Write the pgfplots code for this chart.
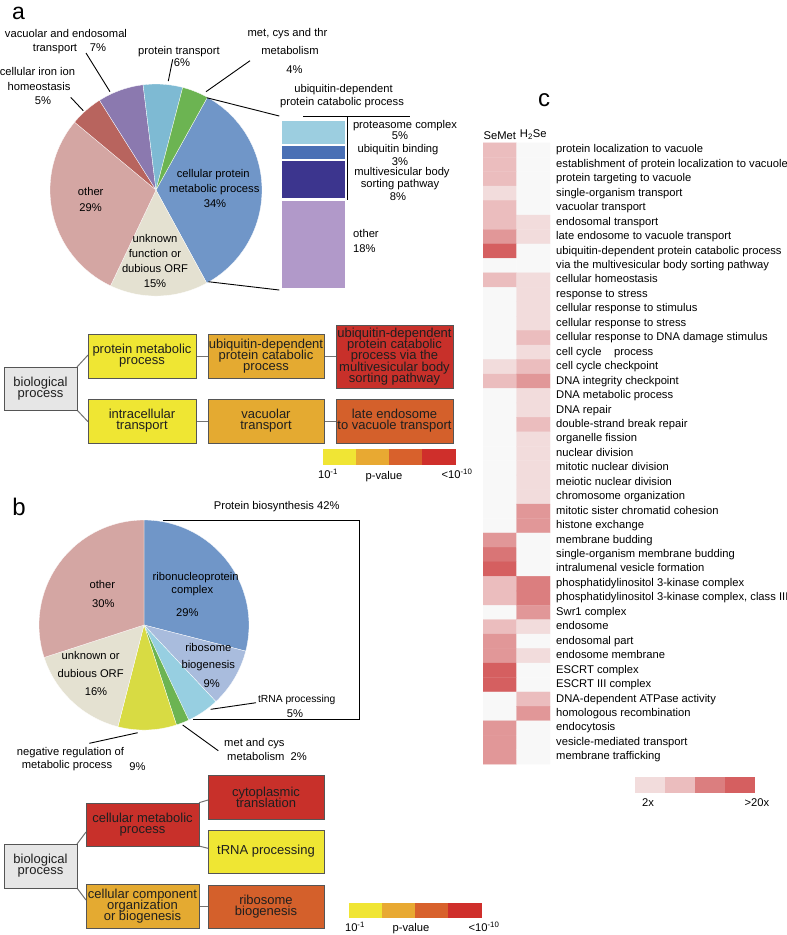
\documentclass[border=0pt]{standalone}
\usepackage{fontspec}
\setmainfont{Liberation Sans}
\usepackage{pgfplots}
\pgfplotsset{compat=1.18}

% pie colours
\definecolor{pieblue}{HTML}{7096C8}
\definecolor{piebeige}{HTML}{E4E1D1}
\definecolor{piepink}{HTML}{D4A6A3}
\definecolor{piered}{HTML}{B8645E}
\definecolor{piepurple}{HTML}{8B79AF}
\definecolor{pielblue}{HTML}{7EBAD3}
\definecolor{piegreen}{HTML}{6CB452}
\definecolor{pieperi}{HTML}{A9BCDD}
\definecolor{pielblueb}{HTML}{97CFE1}
\definecolor{pieyellow}{HTML}{D8DB43}
% stacked bar
\definecolor{sbA}{HTML}{9CCEE0}
\definecolor{sbB}{HTML}{4A70B5}
\definecolor{sbC}{HTML}{3C358E}
\definecolor{sbD}{HTML}{B199C9}
% GO boxes and p-value scale
\definecolor{bxY}{HTML}{EFE633}
\definecolor{bxO}{HTML}{E4AA31}
\definecolor{bxR}{HTML}{C8302A}
\definecolor{bxD}{HTML}{D4602B}
\definecolor{bxG}{HTML}{E6E6E6}
\definecolor{boxedge}{HTML}{555555}
\definecolor{cbY}{HTML}{F0E534}
\definecolor{cbO}{HTML}{E8A932}
\definecolor{cbD}{HTML}{D8612C}
\definecolor{cbR}{HTML}{CF2F2B}
% enrichment scale
\definecolor{hm1}{RGB}{242,220,220}
\definecolor{hm2}{RGB}{235,189,190}
\definecolor{hm3}{RGB}{219,126,127}
\definecolor{hm4}{RGB}{213,95,96}

\newcommand\lf{\fontsize{11.2}{13}\selectfont}
\newcommand\bx{\fontsize{13}{11.2}\selectfont\lineskiplimit=-20pt\relax}
\tikzset{lab/.style={font=\lf, inner sep=0pt, text height=8pt, text depth=2.3pt, anchor=center},
         ldr/.style={black, line width=0.9pt},
         con/.style={draw=black!55, line width=1pt}}

% pie slice: cx, cy, r, start angle, cumulative % before, %, colour  (clockwise)
\newcommand\pieslice[7]{%
 \addplot[fill=#7, draw=white, line width=0.3pt, domain=#4-3.6*(#5+#6):#4-3.6*(#5), samples=60, variable=\t]
   ({#1+#3*cos(\t)},{#2-#3*sin(\t)}) -- (axis cs:#1,#2) -- cycle;}
% GO box: cx, cy, w, h, colour, text
\newcommand\gbox[6]{\node[draw=boxedge, fill=#5, line width=0.8pt, minimum width=#3pt, minimum height=#4pt,
   inner sep=0pt, align=center, font=\bx, text=black!88] at (axis cs:#1,#2) {#6};}
\newcommand\lab[3]{\node[lab] at (axis cs:#1,#2) {#3};}
% colour bar segment: x0, x1, y0, y1, colour
\newcommand\seg[5]{\addplot[fill=#5, draw=none] coordinates {(#1,#3) (#2,#3) (#2,#4) (#1,#4)} -- cycle;}

\begin{document}
\begin{tikzpicture}
% ================= canvas axis (pixel coordinates, y downwards) =================
\begin{axis}[at={(0pt,0pt)}, anchor=north west, x=1pt, y=1pt,
  xmin=0, xmax=787, ymin=0, ymax=935, y dir=reverse, hide axis, clip=false]

% ---------- panel a: pie ----------
\pieslice{156}{190}{106}{61}{0}{34}{pieblue}
\pieslice{156}{190}{106}{61}{34}{15}{piebeige}
\pieslice{156}{190}{106}{61}{49}{29}{piepink}
\pieslice{156}{190}{106}{61}{78}{5}{piered}
\pieslice{156}{190}{106}{61}{83}{7}{piepurple}
\pieslice{156}{190}{106}{61}{90}{6}{pielblue}
\pieslice{156}{190}{106}{61}{96}{4}{piegreen}

\node[font=\fontsize{23}{23}\selectfont, inner sep=0pt, anchor=base] at (axis cs:18.5,19.5) {a};

\lab{66}{34.3}{vacuolar and endosomal}
\lab{55}{48.3}{transport}
\lab{98}{48.3}{7\%}
\lab{37.5}{72.3}{cellular iron ion}
\lab{39}{87.3}{homeostasis}
\lab{43}{101.7}{5\%}
\lab{179}{51.7}{protein transport}
\lab{182}{63.3}{6\%}
\lab{287.5}{33.3}{met, cys and thr}
\lab{290}{51.7}{metabolism}
\lab{294.5}{70.7}{4\%}
\lab{213.3}{175}{cellular protein}
\lab{214.3}{189.3}{metabolic process}
\lab{215}{205}{34\%}
\lab{90.7}{192.7}{other}
\lab{90.7}{208.3}{29\%}
\lab{155}{239.3}{unknown}
\lab{155}{255}{function or}
\lab{155}{270}{dubious ORF}
\lab{155}{285}{15\%}
\draw[ldr] (axis cs:86,53) -- (axis cs:110,91.7);
\draw[ldr] (axis cs:70.7,97.3) -- (axis cs:83.3,110.7);
\draw[ldr] (axis cs:172.7,59.3) -- (axis cs:168.3,81);
\draw[ldr] (axis cs:250,60.7) -- (axis cs:206,91.7);
\draw[ldr] (axis cs:206.7,97.7) -- (axis cs:279.3,116);
\draw[ldr] (axis cs:208.3,281.7) -- (axis cs:279.3,290);

% breakdown of the ubiquitin slice
\lab{343.5}{89.3}{ubiquitin-dependent}
\lab{342}{102.7}{protein catabolic process}
\draw[ldr] (axis cs:303.3,116.7) -- (axis cs:410,116.7);
\draw[ldr] (axis cs:347.7,116.7) -- (axis cs:347.7,200);
\lab{405}{126}{proteasome complex}
\lab{400}{136.7}{5\%}
\lab{398}{149.3}{ubiquitin binding}
\lab{400}{162.3}{3\%}
\lab{402}{172.7}{multivesicular body}
\lab{400}{185}{sorting pathway}
\lab{398}{197.5}{8\%}
\node[lab, anchor=west] at (axis cs:353,235) {other};
\node[lab, anchor=west] at (axis cs:353,249.3) {18\%};

% GO tree a
\draw[con] (axis cs:77,367) -- (axis cs:88,355);
\draw[con] (axis cs:77,410) -- (axis cs:88,421.7);
\draw[con] (axis cs:196,356.7) -- (axis cs:336,356.7);
\draw[con] (axis cs:196,421.7) -- (axis cs:336,421.7);
\gbox{40.5}{388.5}{73}{43}{bxG}{biological\\process}
\gbox{142}{356}{108}{44}{bxY}{protein metabolic\\process}
\gbox{266}{356}{116}{44}{bxO}{ubiquitin-dependent\\protein catabolic\\process}
\gbox{394.5}{356.5}{117}{63}{bxR}{ubiquitin-dependent\\protein catabolic\\process via the\\multivesicular body\\sorting pathway}
\gbox{142}{421}{108}{44}{bxY}{intracellular\\transport}
\gbox{266}{421}{116}{44}{bxO}{vacuolar\\transport}
\gbox{394.5}{421}{117}{44}{bxD}{late endosome\\to vacuole transport}

\seg{323}{356}{449}{465}{cbY}
\seg{356}{389}{449}{465}{cbO}
\seg{389}{422}{449}{465}{cbD}
\seg{422}{456}{449}{465}{cbR}
\lab{328}{476}{10\textsuperscript{-1}}
\lab{384}{476.5}{p-value}
\lab{457}{476}{<10\textsuperscript{-10}}

% ---------- panel b: pie ----------
\pieslice{144}{625}{105}{90}{0}{29}{pieblue}
\pieslice{144}{625}{105}{90}{29}{9}{pieperi}
\pieslice{144}{625}{105}{90}{38}{5}{pielblueb}
\pieslice{144}{625}{105}{90}{43}{2}{piegreen}
\pieslice{144}{625}{105}{90}{45}{9}{pieyellow}
\pieslice{144}{625}{105}{90}{54}{16}{piebeige}
\pieslice{144}{625}{105}{90}{70}{30}{piepink}

\node[font=\fontsize{24}{24}\selectfont, inner sep=0pt, anchor=base] at (axis cs:19,515) {b};
\lab{276.7}{506.7}{Protein biosynthesis 42\%}
\draw[ldr] (axis cs:162.7,520) -- (axis cs:359.3,520) -- (axis cs:359.3,719.3) -- (axis cs:192.7,719.3);
\lab{102.3}{586}{other}
\lab{103.3}{605}{30\%}
\lab{195.7}{577.3}{ribonucleoprotein}
\lab{192.3}{591}{complex}
\lab{187.3}{613.3}{29\%}
\lab{208.3}{648.3}{ribosome}
\lab{208.3}{665.7}{biogenesis}
\lab{211.7}{685}{9\%}
\lab{90.7}{656.7}{unknown or}
\lab{90.7}{675}{dubious ORF}
\lab{96}{692.7}{16\%}
\node[lab, font=\fontsize{10.3}{12}\selectfont] at (axis cs:296.7,700) {tRNA processing};
\lab{295}{715}{5\%}
\draw[ldr] (axis cs:210.7,709.3) -- (axis cs:256,702.7);
\node[lab, anchor=west] at (axis cs:224,744) {met and cys};
\node[lab, anchor=west] at (axis cs:227,757.7) {metabolism\ \ 2\%};
\draw[ldr] (axis cs:182.7,725) -- (axis cs:218.3,750.7);
\lab{70.5}{752.7}{negative regulation of}
\lab{67}{765.7}{metabolic process}
\lab{137.5}{767.7}{9\%}
\draw[ldr] (axis cs:89.3,743.3) -- (axis cs:137.7,732.7);

% GO tree b
\draw[con] (axis cs:77,844) -- (axis cs:86,832);
\draw[con] (axis cs:77,888) -- (axis cs:86,900);
\draw[con] (axis cs:199,802.7) -- (axis cs:208,800);
\draw[con] (axis cs:199,846) -- (axis cs:208,848.3);
\draw[con] (axis cs:199,906) -- (axis cs:208,906);
\gbox{40.5}{866}{73}{44}{bxG}{biological\\process}
\gbox{142.5}{824.5}{113}{43}{bxR}{cellular metabolic\\process}
\gbox{266}{797}{116}{44}{bxR}{cytoplasmic\\translation}
\gbox{266}{851.5}{116}{43}{bxY}{tRNA processing}
\gbox{142.5}{906}{113}{44}{bxO}{cellular component\\organization\\or biogenesis}
\gbox{266}{906.5}{116}{43}{bxD}{ribosome\\biogenesis}

\seg{349}{382}{903}{918}{cbY}
\seg{382}{415}{903}{918}{cbO}
\seg{415}{448}{903}{918}{cbD}
\seg{448}{482}{903}{918}{cbR}
\lab{355}{929}{10\textsuperscript{-1}}
\lab{411}{929}{p-value}
\lab{484}{929}{<10\textsuperscript{-10}}

% ---------- panel c: scale and letter ----------
\node[font=\fontsize{24}{24}\selectfont, inner sep=0pt, anchor=base] at (axis cs:544,106) {c};
\seg{635}{665}{777}{793}{hm1}
\seg{665}{695}{777}{793}{hm2}
\seg{695}{725}{777}{793}{hm3}
\seg{725}{755}{777}{793}{hm4}
\lab{648}{804}{2x}
\lab{757}{804}{>20x}
\end{axis}

% ================= stacked bar (breakdown of 34%) =================
\begin{axis}[at={(281pt,-120pt)}, anchor=north west, scale only axis,
  width=65pt, height=169pt, xmin=-0.5, xmax=0.5, ymin=0, ymax=34, y dir=reverse,
  hide axis, ybar stacked, bar width=65pt, clip=false]
\addplot[fill=sbA, draw=white, line width=2.5pt] coordinates {(0,5)};
\addplot[fill=sbB, draw=white, line width=2.5pt] coordinates {(0,3)};
\addplot[fill=sbC, draw=white, line width=2.5pt] coordinates {(0,8)};
\addplot[fill=sbD, draw=white, line width=2.5pt] coordinates {(0,18)};
\end{axis}

% ================= panel c heatmap =================
\begin{axis}[at={(483pt,-142.8pt)}, anchor=north west, scale only axis,
  width=67pt, height=621.4pt, xmin=-0.5, xmax=1.5, ymin=0.5, ymax=43.5, y dir=reverse,
  enlargelimits=false, axis line style={draw=none}, major tick length=0pt, tick style={draw=none},
  xtick={0,1}, xticklabels={SeMet,H\textsubscript{2}Se}, xticklabel pos=upper,
  xticklabel style={font=\lf, inner sep=0pt, yshift=3pt},
  ytick={1,...,43}, yticklabel pos=upper,
  yticklabel style={font=\lf, anchor=west, inner sep=0pt, xshift=6pt, text height=8pt, text depth=2.3pt},
  yticklabels={protein localization to vacuole,
    establishment of protein localization to vacuole,
    protein targeting to vacuole,
    single-organism transport,
    vacuolar transport,
    endosomal transport,
    late endosome to vacuole transport,
    ubiquitin-dependent protein catabolic process,
    via the multivesicular body sorting pathway,
    cellular homeostasis,
    response to stress,
    cellular response to stimulus,
    cellular response to stress,
    cellular response to DNA damage stimulus,
    cell cycle\ \ \ \ process,
    cell cycle checkpoint,
    DNA integrity checkpoint,
    DNA metabolic process,
    DNA repair,
    double-strand break repair,
    organelle fission,
    nuclear division,
    mitotic nuclear division,
    meiotic nuclear division,
    chromosome organization,
    mitotic sister chromatid cohesion,
    histone exchange,
    membrane budding,
    single-organism membrane budding,
    intralumenal vesicle formation,
    phosphatidylinositol 3-kinase complex,
    {phosphatidylinositol 3-kinase complex, class III},
    Swr1 complex,
    endosome,
    endosomal part,
    endosome membrane,
    ESCRT complex,
    ESCRT III complex,
    DNA-dependent ATPase activity,
    homologous recombination,
    endocytosis,
    vesicle-mediated transport,
    membrane trafficking},
  colormap={enrich}{rgb255=(248,248,248) rgb255=(242,220,220) rgb255=(235,189,190) rgb255=(219,126,127) rgb255=(213,95,96)},
  point meta min=0, point meta max=4]
\addplot[matrix plot*, mesh/cols=2, point meta=explicit] table[meta=c] {
x y c
0 1 2
1 1 0
0 2 2
1 2 0
0 3 2
1 3 0
0 4 1
1 4 0
0 5 2
1 5 0
0 6 2
1 6 1
0 7 2.6
1 7 1
0 8 4
1 8 0
0 9 0
1 9 0
0 10 2
1 10 1
0 11 0
1 11 1
0 12 0
1 12 1
0 13 0
1 13 1
0 14 0
1 14 2
0 15 0
1 15 1
0 16 1
1 16 2
0 17 2
1 17 2.6
0 18 0
1 18 1
0 19 0
1 19 1
0 20 0
1 20 2
0 21 0
1 21 1
0 22 0
1 22 1
0 23 0
1 23 1
0 24 0
1 24 1
0 25 0
1 25 1
0 26 0
1 26 2.6
0 27 0
1 27 2.6
0 28 2.6
1 28 0
0 29 3.3
1 29 0
0 30 4
1 30 0
0 31 2
1 31 3
0 32 2
1 32 3
0 33 0
1 33 2.6
0 34 2
1 34 1
0 35 2.6
1 35 0
0 36 2.6
1 36 1
0 37 4
1 37 0
0 38 4
1 38 0
0 39 0
1 39 2
0 40 0
1 40 2.6
0 41 2.6
1 41 0
0 42 2.6
1 42 0
0 43 2.6
1 43 0
};
\end{axis}

\pgfresetboundingbox
\useasboundingbox (0pt,0pt) rectangle (787pt,-935pt);
\end{tikzpicture}
\end{document}
